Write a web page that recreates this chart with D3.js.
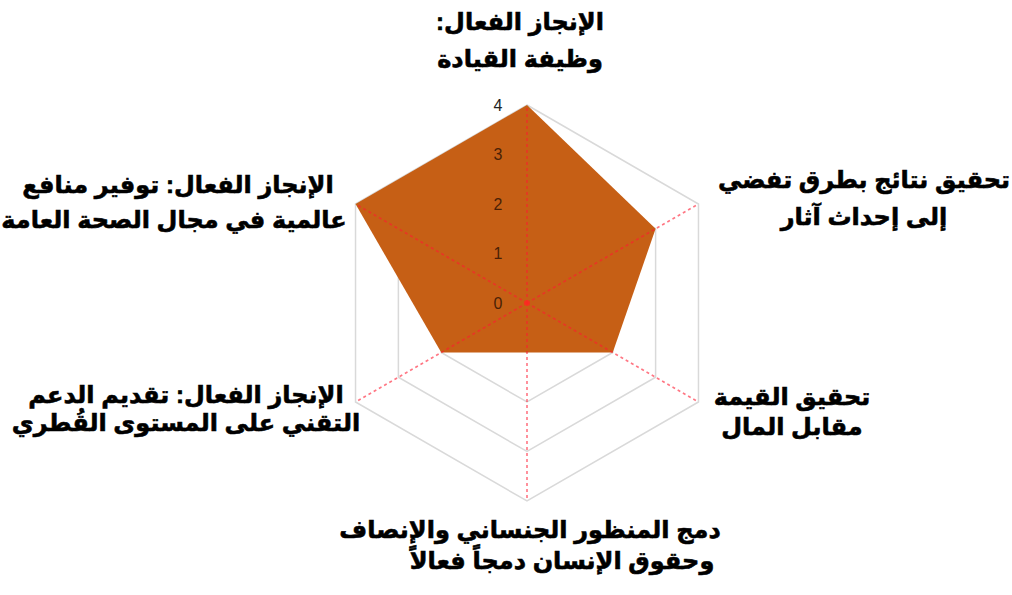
<!DOCTYPE html>
<html>
<head>
<meta charset="utf-8">
<script src="https://cdn.jsdelivr.net/npm/d3@7"></script>
<style>
  body { margin: 0; background: #fff; }
  svg { display: block; }
  .cat { font-family: "Liberation Sans", Arial, "DejaVu Sans", sans-serif; font-weight: bold; font-size: 24px; fill: #000; stroke: #000; stroke-width: 0.6px; }
  .tick { font-family: "Liberation Sans", Arial, sans-serif; font-size: 16px; }
</style>
</head>
<body>
<svg width="1012" height="595"></svg>
<script>
// axes, clockwise from the top
var categories = [
    ['الإنجاز الفعال:', 'وظيفة القيادة'],
    ['تحقيق نتائج بطرق تفضي', 'إلى إحداث آثار'],
    ['تحقيق القيمة', 'مقابل المال'],
    ['دمج المنظور الجنساني والإنصاف', 'وحقوق الإنسان دمجاً فعالاً'],
    ['الإنجاز الفعال: تقديم الدعم', 'التقني على المستوى القُطري'],
    ['الإنجاز الفعال: توفير منافع', 'عالمية في مجال الصحة العامة']
];
var values = [4, 3, 2, 1, 2, 4];
var tickLabels = [0, 1, 2, 3, 4];

var cx = 527, cy = 303;
var svg = d3.select('svg');
var g = svg.append('g').attr('transform', 'translate(' + cx + ',' + cy + ')');

var r = d3.scaleLinear().domain([0, 4]).range([0, 198]);
var angle = d3.scaleLinear().domain([0, categories.length]).range([0, 2 * Math.PI]);

var radial = d3.lineRadial()
    .angle(function (d, i) { return angle(i); })
    .radius(function (d) { return r(d); })
    .curve(d3.curveLinearClosed);

// grid rings
tickLabels.slice(1).forEach(function (t) {
    g.append('path')
        .attr('d', radial(categories.map(function () { return t; })))
        .attr('fill', 'none')
        .attr('stroke', '#d9d9d9')
        .attr('stroke-width', 1.5);
});

// series area
g.append('path')
    .attr('d', radial(values))
    .attr('fill', '#c65f15');

// spokes, dashed, drawn over the area
categories.forEach(function (c, i) {
    var a = angle(i) - Math.PI / 2;
    g.append('line')
        .attr('x1', 0).attr('y1', 0)
        .attr('x2', r(4) * Math.cos(a)).attr('y2', r(4) * Math.sin(a))
        .attr('stroke', '#ff1a30')
        .attr('stroke-opacity', 0.6)
        .attr('stroke-width', 1.6)
        .attr('stroke-dasharray', '3,3');
});
g.append('circle').attr('r', 3).attr('fill', '#ff2a20').attr('fill-opacity', 0.7);

// value ticks along the top axis
g.selectAll('text.tick')
    .data(tickLabels)
    .enter().append('text')
    .attr('class', 'tick')
    .attr('x', -29)
    .attr('y', function (d) { return -r(d); })
    .attr('dy', '0.35em')
    .attr('text-anchor', 'middle')
    .attr('fill', function (d) { return d === 4 ? '#222' : '#4a1f06'; })
    .text(function (d) { return d; });

// category labels: centre x and first-line baseline for each axis
var labelPos = [[520, 30], [864, 188], [792, 405], [530, 538], [186, 403], [178, 193]];
var lineGap = [37, 37, 30, 31, 28, 35];
var line2Shift = [0, 0, 0, 32, 0, -4];

categories.forEach(function (c, i) {
    c.forEach(function (line, j) {
        svg.append('text')
            .attr('class', 'cat')
            .attr('direction', 'rtl')
            .attr('text-anchor', 'middle')
            .attr('x', labelPos[i][0] + (j === 1 ? line2Shift[i] : 0))
            .attr('y', labelPos[i][1] + j * lineGap[i])
            .text(line);
    });
});
</script>
</body>
</html>
